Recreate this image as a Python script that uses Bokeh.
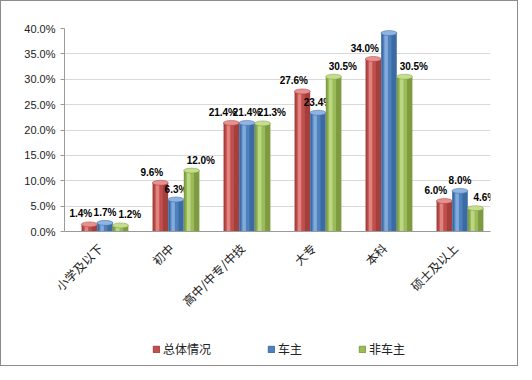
from bokeh.plotting import figure
from bokeh.models import ColumnDataSource, FactorRange, NumeralTickFormatter, Legend, LegendItem, Range1d
from bokeh.layouts import column
from bokeh.transform import dodge
from bokeh.core.properties import value
from bokeh.embed import file_html
from bokeh.resources import INLINE
import math

categories = ["小学及以下", "初中", "高中/中专/中技", "大专", "本科", "硕士及以上"]
series_names = ["总体情况", "车主", "非车主"]
overall = [1.4, 9.6, 21.4, 27.6, 34.0, 6.0]
owners = [1.7, 6.3, 21.4, 23.4, 39.1, 8.0]
non_owners = [1.2, 12.0, 21.3, 30.5, 30.5, 4.6]
y_ticks = [0, 5, 10, 15, 20, 25, 30, 35, 40]

colors = ["#C0504D", "#4F81BD", "#9BBB59"]
dark = ["#A33F3C", "#3C6BA3", "#7E9B42"]
light = ["#E8908D", "#8FB4E3", "#C4DE8E"]
series = [overall, owners, non_owners]
offsets = [-0.15, 0.07, 0.29]
label_shift = [-0.12, 0.0, 0.13]

p = figure(x_range=FactorRange(*categories), y_range=Range1d(0, 0.40),
           width=516, height=326, output_backend="svg", toolbar_location=None,
           min_border_left=63, min_border_right=27, min_border_top=27, min_border_bottom=96)
p.outline_line_color = None
p.background_fill_color = "white"

for i, vals in enumerate(series):
    src = ColumnDataSource(dict(cat=categories, v=[x / 100 for x in vals],
                                lab=[f"{x:.1f}%" for x in vals]))
    p.vbar(x=dodge("cat", offsets[i], range=p.x_range), top="v", width=0.22,
           source=src, fill_color=dark[i], line_color=None)
    p.vbar(x=dodge("cat", offsets[i] - 0.025, range=p.x_range), top="v", width=0.12,
           source=src, fill_color=colors[i], line_color=None)
    p.vbar(x=dodge("cat", offsets[i] - 0.04, range=p.x_range), top="v", width=0.05,
           source=src, fill_color=light[i], line_color=None, fill_alpha=0.8)
    p.ellipse(x=dodge("cat", offsets[i], range=p.x_range), y="v", width=16, height=5,
              width_units="screen", height_units="screen", source=src,
              fill_color=light[i], line_color=dark[i], line_width=0.5)
    p.text(x=dodge("cat", offsets[i] + label_shift[i], range=p.x_range), y="v", text="lab",
           source=src, text_align="center", text_baseline="bottom", y_offset=-5,
           text_font=value("Liberation Sans"), text_font_size="10px",
           text_font_style="bold", text_color="#000000")

p.yaxis.ticker = [t / 100 for t in y_ticks]
p.yaxis.formatter = NumeralTickFormatter(format="0.0%")
p.yaxis.major_label_text_font = "Liberation Sans"
p.yaxis.major_label_text_font_size = "11px"
p.yaxis.major_label_text_color = "#222222"
p.yaxis.axis_line_color = "#9a9a9a"
p.yaxis.major_tick_line_color = "#9a9a9a"
p.yaxis.major_tick_in = 0
p.yaxis.major_tick_out = 4
p.yaxis.minor_tick_line_color = None

p.xaxis.major_label_orientation = math.pi / 4
p.xaxis.major_label_text_font = "Noto Sans CJK SC"
p.xaxis.major_label_text_font_size = "12px"
p.xaxis.major_label_text_color = "#222222"
p.xaxis.axis_line_color = "#9a9a9a"
p.xaxis.major_tick_line_color = None
p.xaxis.major_label_standoff = 8

p.xgrid.grid_line_color = None
p.ygrid.grid_line_color = "#d9d9d9"
p.ygrid.ticker = p.yaxis.ticker

# legend strip (hidden renderers built from the series data, used only for the legend)
lg = figure(width=516, height=38, output_backend="svg", toolbar_location=None,
            x_range=Range1d(0, 1), y_range=Range1d(0, 1), x_axis_type=None, y_axis_type=None,
            min_border=0)
lg.outline_line_color = None
lg.xgrid.grid_line_color = None
lg.ygrid.grid_line_color = None
items = []
for i, name in enumerate(series_names):
    r = lg.vbar(x=list(range(len(categories))), top=series[i], width=0.5,
                fill_color=colors[i], line_color=dark[i], visible=False)
    items.append(LegendItem(label=name, renderers=[r]))
legend = Legend(items=items, orientation="horizontal", location=(88, 8),
                glyph_width=8, glyph_height=8, label_standoff=3, spacing=56,
                label_text_font="Noto Sans CJK SC", label_text_font_size="12px",
                label_text_color="#222222", border_line_color=None,
                background_fill_alpha=0, padding=2, margin=0, click_policy="none")
lg.add_layout(legend, "center")

layout = column(p, lg, spacing=0)
layout.styles = {"border": "1px solid #8c8c8c", "background-color": "white"}

open("out.html", "w").write(file_html(layout, INLINE))
